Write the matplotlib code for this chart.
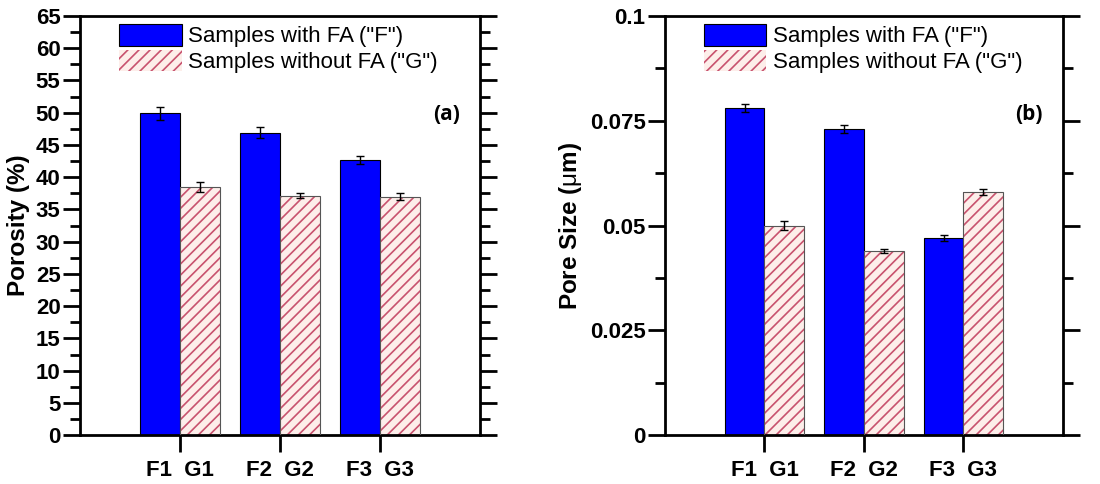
import matplotlib
matplotlib.use("Agg")
import matplotlib.pyplot as plt
import numpy as np
from matplotlib.ticker import MultipleLocator, FixedLocator

plt.rcParams["font.family"] = ["Liberation Sans", "DejaVu Sans"]
plt.rcParams["mathtext.fontset"] = "custom"
plt.rcParams["mathtext.rm"] = "Liberation Sans"
plt.rcParams["hatch.linewidth"] = 1.2

groups = ["F1  G1", "F2  G2", "F3  G3"]
legend_labels = ['Samples with FA ("F")', 'Samples without FA ("G")']

porosity_f = [49.9, 46.9, 42.7]
porosity_f_err = [1.0, 0.85, 0.6]
porosity_g = [38.5, 37.1, 37.0]
porosity_g_err = [0.8, 0.4, 0.5]

pore_f = [0.078, 0.073, 0.047]
pore_f_err = [0.001, 0.0009, 0.0008]
pore_g = [0.050, 0.044, 0.058]
pore_g_err = [0.001, 0.0005, 0.0008]

BLUE = "#0000ff"
HATCH_FACE = "#fdeeea"
HATCH_COLOR = "#c8526e"
W = 0.4

fig = plt.figure(figsize=(11, 4.84), dpi=100)
ax_a = fig.add_axes([0.0727, 0.101, 0.3636, 0.866])
ax_b = fig.add_axes([0.6045, 0.101, 0.3618, 0.866])


def draw_panel(ax, f, f_err, g, g_err, ylim, major, minor, tag, ylabel, fmt):
    x = np.arange(1, len(f) + 1)
    ax.bar(x - W / 2, f, W, color=BLUE, edgecolor="black", linewidth=0.8,
           label=legend_labels[0], zorder=2)
    ax.bar(x + W / 2, g, W, facecolor=HATCH_FACE, edgecolor=HATCH_COLOR,
           hatch="///", linewidth=0, label=legend_labels[1], zorder=2)
    # outline of hatched bars drawn separately in grey
    ax.bar(x + W / 2, g, W, facecolor="none", edgecolor="#555555",
           linewidth=0.8, zorder=3)
    ax.errorbar(x - W / 2, f, yerr=f_err, fmt="none", ecolor="black",
                elinewidth=1, capsize=3, capthick=1, zorder=4)
    ax.errorbar(x + W / 2, g, yerr=g_err, fmt="none", ecolor="black",
                elinewidth=1, capsize=3, capthick=1, zorder=4)

    ax.set_xlim(0, 4)
    ax.set_ylim(*ylim)
    ax.xaxis.set_major_locator(FixedLocator(x))
    ax.set_xticklabels(groups, fontsize=16, fontweight="bold")
    ax.yaxis.set_major_locator(MultipleLocator(major))
    ax.yaxis.set_minor_locator(MultipleLocator(minor))
    ax.yaxis.set_major_formatter(fmt)
    for lbl in ax.get_yticklabels():
        lbl.set_fontsize(16)
        lbl.set_fontweight("bold")

    for s in ax.spines.values():
        s.set_linewidth(2)
    ax.tick_params(axis="x", which="major", direction="out", length=12,
                   width=2, pad=6, top=False)
    ax.tick_params(axis="y", which="major", direction="out", length=12,
                   width=2, right=True, pad=2)
    ax.tick_params(axis="y", which="minor", direction="out", length=7,
                   width=2, right=True)

    ax.set_ylabel(ylabel, fontsize=17.5, fontweight="bold", labelpad=4)
    ax.text(0.95, 0.765, tag, transform=ax.transAxes, ha="right", va="center",
            fontsize=15, fontweight="bold", family=["Open Sans", "DejaVu Sans"])
    leg = ax.legend(loc="upper left", bbox_to_anchor=(0.065, 1.012),
                    frameon=False, fontsize=16, handlelength=2.8,
                    handleheight=1.1, handletextpad=0.3, labelspacing=0.1,
                    borderaxespad=0.2)
    return leg


draw_panel(ax_a, porosity_f, porosity_f_err, porosity_g, porosity_g_err,
           (0, 65), 5, 2.5, "(a)", "Porosity (%)",
           matplotlib.ticker.FormatStrFormatter("%d"))


def pore_fmt(v, pos):
    if abs(v) < 1e-12:
        return "0"
    return f"{v:g}"


draw_panel(ax_b, pore_f, pore_f_err, pore_g, pore_g_err,
           (0, 0.1), 0.025, 0.0125, "(b)",
           r"Pore Size ($\mathrm{\mu}$m)",
           matplotlib.ticker.FuncFormatter(pore_fmt))

fig.savefig("out.png", dpi=100)
